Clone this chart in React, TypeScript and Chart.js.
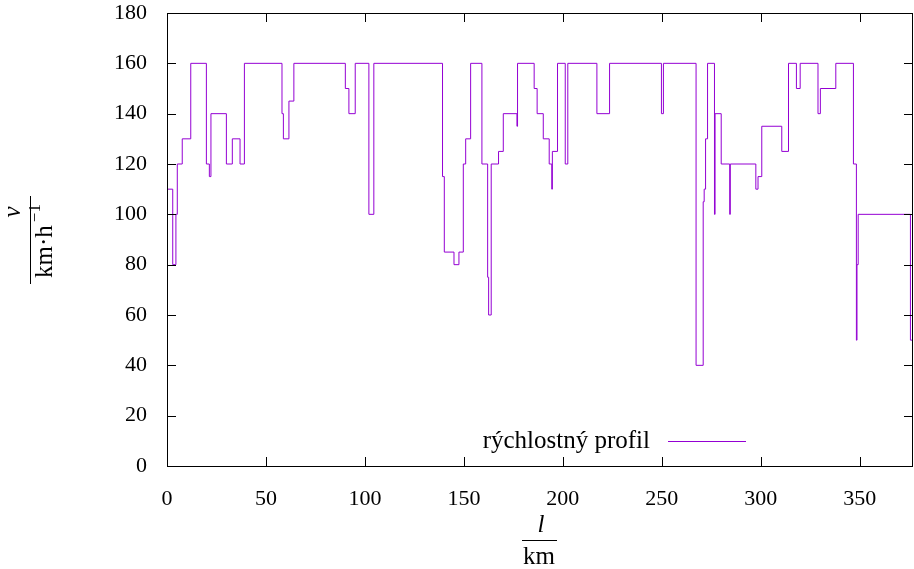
import React, { useEffect, useRef } from "react";
import { Chart, registerables } from "chart.js";

Chart.register(...registerables);

// Segment start positions (km) and the speed (km/h) valid from that point on
const segmentStartKm = [
  0, 2.9, 4.5, 5.2, 7.7, 12.0, 19.9, 21.4, 22.2, 30.0, 33.0, 36.9, 39.1, 58.1, 58.8, 61.6, 64.1,
  90.1, 91.9, 95.1, 102.0, 104.5, 139.2, 140.1, 145.0, 147.5, 149.7, 150.9, 153.4, 159.1, 162.0,
  162.5, 163.8, 167.5, 169.9, 176.8, 177.1, 185.5, 187.0, 190.1, 193.1, 194.4, 194.7, 197.3, 201.2,
  202.5, 217.2, 223.6, 249.8, 250.8, 267.3, 270.9, 271.4, 272.1, 273.1, 276.6, 276.9, 280.0, 284.3,
  284.6, 297.5, 298.6, 300.5, 310.6, 314.0, 318.0, 319.9, 328.9, 330.1, 337.9, 346.8, 348.3, 348.6,
  349.2, 375.6, 376.9,
];
const segmentSpeed = [
  110, 80, 100, 120, 130, 160, 120, 115, 140, 120, 130, 120, 160, 140, 130, 145, 160,
  150, 140, 160, 100, 160, 115, 85, 80, 85, 120, 130, 160, 120, 75,
  60, 120, 125, 140, 135, 160, 150, 140, 130, 120, 110, 125, 160, 120,
  160, 140, 160, 140, 160, 40, 105, 110, 130, 160, 100, 140, 120, 100,
  120, 110, 115, 135, 125, 160, 150, 160, 140, 150, 160, 120, 50, 80,
  100, 50, 50,
];
const xTicks = [0, 50, 100, 150, 200, 250, 300, 350];
const yTicks = [0, 20, 40, 60, 80, 100, 120, 140, 160, 180];
const seriesLabel = "rýchlostný profil";
const X_MAX = 376.9;

const LINE_COLOR = "#9400D3";
const FONT = "'Liberation Serif', 'DejaVu Serif', serif";
const FONT_SIZE = 22;
const TEXT_SIZE = 25;

const decorPlugin = {
  id: "gnuplotDecor",
  afterDraw(chart: any) {
    const { ctx, chartArea } = chart;
    const xs = chart.scales.x;
    const ys = chart.scales.y;
    const { left, right, top, bottom } = chartArea;
    ctx.save();
    // border box
    ctx.strokeStyle = "#000";
    ctx.lineWidth = 1;
    ctx.strokeRect(Math.round(left) + 0.5, Math.round(top) + 0.5, Math.round(right - left) - 1, Math.round(bottom - top));
    // inward ticks
    const tl = 9;
    ctx.beginPath();
    xTicks.forEach((v) => {
      const px = Math.round(xs.getPixelForValue(v)) + 0.5;
      ctx.moveTo(px, bottom);
      ctx.lineTo(px, bottom - tl);
      ctx.moveTo(px, top);
      ctx.lineTo(px, top + tl);
    });
    yTicks.forEach((v) => {
      const py = Math.round(ys.getPixelForValue(v)) + 0.5;
      ctx.moveTo(left, py);
      ctx.lineTo(left + tl, py);
      ctx.moveTo(right, py);
      ctx.lineTo(right - tl, py);
    });
    ctx.stroke();

    // legend
    ctx.fillStyle = "#000";
    ctx.font = `${TEXT_SIZE}px ${FONT}`;
    ctx.textAlign = "right";
    ctx.textBaseline = "alphabetic";
    ctx.fillText(seriesLabel, 650, 448);
    ctx.strokeStyle = LINE_COLOR;
    ctx.beginPath();
    ctx.moveTo(668, 441.5);
    ctx.lineTo(746, 441.5);
    ctx.stroke();

    // x axis title: l / km
    ctx.fillStyle = "#000";
    ctx.strokeStyle = "#000";
    ctx.textAlign = "center";
    ctx.textBaseline = "alphabetic";
    ctx.font = `italic ${TEXT_SIZE}px ${FONT}`;
    ctx.fillText("l", 541, 532);
    ctx.beginPath();
    ctx.moveTo(522, 540.5);
    ctx.lineTo(557, 540.5);
    ctx.stroke();
    ctx.font = `${TEXT_SIZE}px ${FONT}`;
    ctx.fillText("km", 539, 564);

    // y axis title: v / km·h^-1 (rotated)
    ctx.translate(30, 241);
    ctx.rotate(-Math.PI / 2);
    ctx.font = `italic ${TEXT_SIZE}px ${FONT}`;
    ctx.textAlign = "center";
    ctx.fillText("v", 29, -10);
    ctx.beginPath();
    ctx.moveTo(-43, 0.5);
    ctx.lineTo(45, 0.5);
    ctx.stroke();
    ctx.font = `${TEXT_SIZE}px ${FONT}`;
    const main = "km·h";
    const sup = "−1";
    const mw = ctx.measureText(main).width;
    const supFont = `${Math.round(TEXT_SIZE * 0.68)}px ${FONT}`;
    ctx.font = supFont;
    const sw = ctx.measureText(sup).width;
    const gap = 3;
    const startX = -(mw + sw + gap) / 2;
    ctx.textAlign = "left";
    ctx.font = `${TEXT_SIZE}px ${FONT}`;
    ctx.fillText(main, startX, 22);
    ctx.font = supFont;
    ctx.fillText(sup, startX + mw + gap, 10);
    ctx.restore();
  },
};

export default function App() {
  const ref = useRef<HTMLCanvasElement | null>(null);
  useEffect(() => {
    if (!ref.current) return;
    const points = segmentStartKm.map((x, i) => ({ x, y: segmentSpeed[i] }));
    const chart = new Chart(ref.current, {
      type: "line",
      data: {
        datasets: [
          {
            label: seriesLabel,
            data: points,
            borderColor: LINE_COLOR,
            borderWidth: 1,
            pointRadius: 0,
            stepped: "before",
            fill: false,
          },
        ],
      },
      options: {
        responsive: false,
        animation: false,
        layout: { padding: { left: 0, top: 13, right: 1, bottom: 0 } },
        plugins: { legend: { display: false }, tooltip: { enabled: false } },
        scales: {
          x: {
            type: "linear",
            min: 0,
            max: X_MAX,
            grid: { display: false },
            border: { display: false },
            ticks: {
              stepSize: 50,
              includeBounds: false,
              color: "#000",
              padding: 12,
              maxRotation: 0,
              font: { family: FONT, size: FONT_SIZE },
            },
            afterFit: (s: any) => {
              s.height = 103;
              s.paddingLeft = 0;
              s.paddingRight = 0;
            },
          },
          y: {
            min: 0,
            max: 180,
            grid: { display: false },
            border: { display: false },
            ticks: {
              stepSize: 20,
              color: "#000",
              padding: 12,
              font: { family: FONT, size: FONT_SIZE },
            },
            afterFit: (s: any) => {
              s.width = 167;
              s.paddingTop = 0;
              s.paddingBottom = 0;
            },
          },
        },
      },
      plugins: [decorPlugin],
    });
    return () => chart.destroy();
  }, []);
  return (
    <div style={{ position: "fixed", left: 0, top: 0, width: 914, height: 569, background: "#fff" }}>
      <canvas ref={ref} width={914} height={569} style={{ display: "block" }} />
    </div>
  );
}
